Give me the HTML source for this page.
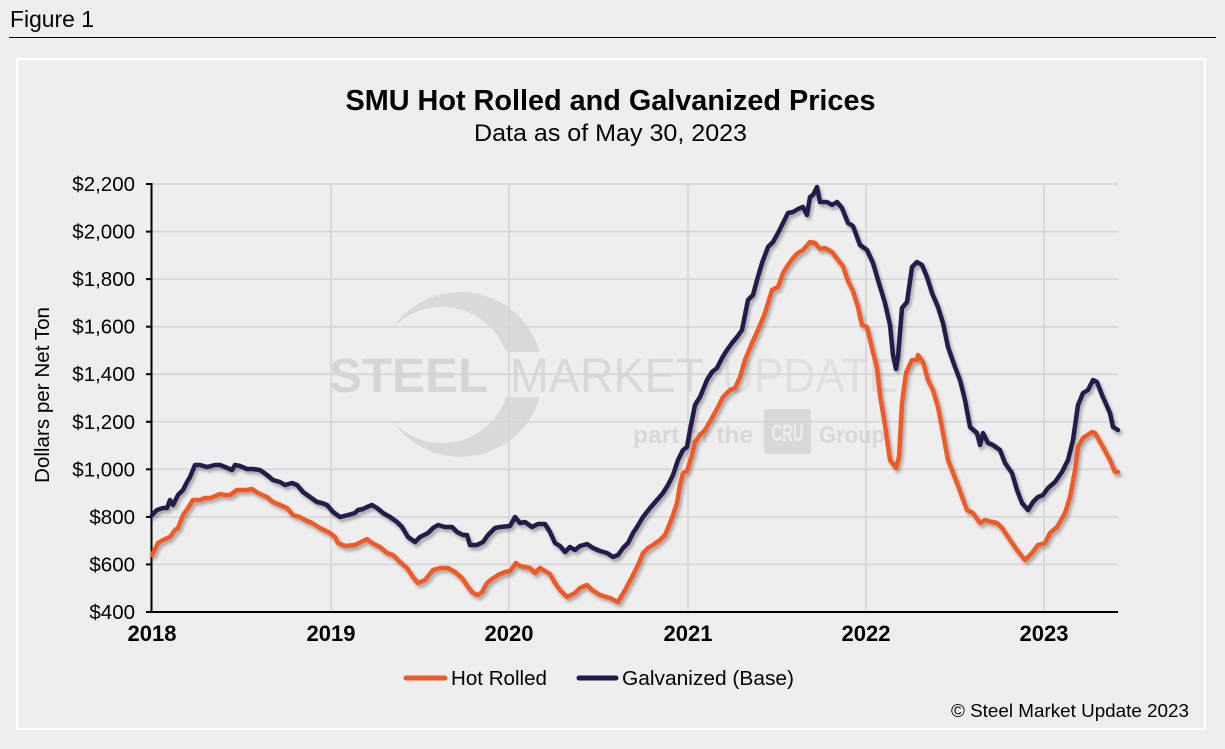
<!DOCTYPE html>
<html>
<head>
<meta charset="utf-8">
<style>
html,body{margin:0;padding:0;background:#eeeeee;}
svg{display:block;}
text{font-family:"Liberation Sans",Arial,sans-serif;}
</style>
</head>
<body>
<svg width="1225" height="749" viewBox="0 0 1225 749" xmlns="http://www.w3.org/2000/svg">
<defs>
<filter id="sh" x="-5%" y="-5%" width="110%" height="110%">
<feDropShadow dx="2" dy="3" stdDeviation="1.5" flood-color="#000" flood-opacity="0.3"/>
</filter>
<mask id="cm">
<rect x="0" y="0" width="1225" height="749" fill="black"/>
<circle cx="460.5" cy="374.5" r="82.5" fill="white"/>
<circle cx="442" cy="375" r="68" fill="black"/>
<rect x="370" y="352" width="200" height="45" fill="black"/>
</mask>
</defs>
<rect x="0" y="0" width="1225" height="749" fill="#eeeeee"/>
<text x="10" y="27" font-size="23" fill="#000" textLength="84" lengthAdjust="spacingAndGlyphs">Figure 1</text>
<line x1="9" y1="37.5" x2="1216" y2="37.5" stroke="#000" stroke-width="1"/>
<rect x="17" y="59" width="1188" height="670" fill="none" stroke="#ffffff" stroke-width="2"/>

<text x="610.5" y="110" font-size="29" font-weight="bold" text-anchor="middle" fill="#000" textLength="530" lengthAdjust="spacingAndGlyphs">SMU Hot Rolled and Galvanized Prices</text>
<text x="610.5" y="141" font-size="24" text-anchor="middle" fill="#000" textLength="273" lengthAdjust="spacingAndGlyphs">Data as of May 30, 2023</text>

<!-- watermark -->
<rect x="370" y="285" width="190" height="180" fill="#dadada" mask="url(#cm)"/>
<text x="329" y="392" font-size="48" font-weight="bold" fill="#d6d6d6" textLength="159" lengthAdjust="spacingAndGlyphs">STEEL</text>
<text x="510" y="392" font-size="48" fill="#d9d9d9" textLength="194" lengthAdjust="spacingAndGlyphs">MARKET</text>
<text x="722" y="392" font-size="48" fill="#e0e0e0" textLength="176" lengthAdjust="spacingAndGlyphs" style="font-weight:100">UPDATE</text>
<text x="633" y="443" font-size="24" font-weight="bold" fill="#d9d9d9" textLength="120" lengthAdjust="spacingAndGlyphs">part of the</text>
<rect x="764" y="409" width="47" height="45" rx="3" fill="#d9d9d9"/>
<text x="787.5" y="441" font-size="24" font-weight="bold" fill="#eeeeee" text-anchor="middle" textLength="32" lengthAdjust="spacingAndGlyphs">CRU</text>
<text x="819" y="443" font-size="24" font-weight="bold" fill="#d9d9d9" textLength="66" lengthAdjust="spacingAndGlyphs">Group</text>

<!-- gridlines -->
<g stroke="#d4d4d4" stroke-width="1.5">
<line x1="152" y1="184" x2="1118" y2="184"/>
<line x1="152" y1="231.6" x2="1118" y2="231.6"/>
<line x1="152" y1="279.1" x2="1118" y2="279.1"/>
<line x1="152" y1="326.7" x2="1118" y2="326.7"/>
<line x1="152" y1="374.2" x2="1118" y2="374.2"/>
<line x1="152" y1="421.8" x2="1118" y2="421.8"/>
<line x1="152" y1="469.3" x2="1118" y2="469.3"/>
<line x1="152" y1="516.9" x2="1118" y2="516.9"/>
<line x1="152" y1="564.4" x2="1118" y2="564.4"/>
<line x1="331" y1="184" x2="331" y2="612"/>
<line x1="509" y1="184" x2="509" y2="612"/>
<line x1="688" y1="184" x2="688" y2="612"/>
<line x1="866" y1="184" x2="866" y2="612"/>
<line x1="1044" y1="184" x2="1044" y2="612"/>
</g>

<!-- axes -->
<g stroke="#000" stroke-width="2">
<line x1="151.5" y1="183" x2="151.5" y2="613"/>
<line x1="150" y1="612" x2="1118" y2="612"/>
<line x1="146" y1="184" x2="152" y2="184"/>
<line x1="146" y1="231.6" x2="152" y2="231.6"/>
<line x1="146" y1="279.1" x2="152" y2="279.1"/>
<line x1="146" y1="326.7" x2="152" y2="326.7"/>
<line x1="146" y1="374.2" x2="152" y2="374.2"/>
<line x1="146" y1="421.8" x2="152" y2="421.8"/>
<line x1="146" y1="469.3" x2="152" y2="469.3"/>
<line x1="146" y1="516.9" x2="152" y2="516.9"/>
<line x1="146" y1="564.4" x2="152" y2="564.4"/>
<line x1="146" y1="612" x2="152" y2="612"/>
</g>

<g font-size="20.5" fill="#000" text-anchor="end">
<text x="135" y="191">$2,200</text>
<text x="135" y="238.6">$2,000</text>
<text x="135" y="286.1">$1,800</text>
<text x="135" y="333.7">$1,600</text>
<text x="135" y="381.2">$1,400</text>
<text x="135" y="428.8">$1,200</text>
<text x="135" y="476.3">$1,000</text>
<text x="135" y="523.9">$800</text>
<text x="135" y="571.4">$600</text>
<text x="135" y="619">$400</text>
</g>
<text transform="translate(49,395) rotate(-90)" font-size="20" text-anchor="middle" fill="#000" textLength="176" lengthAdjust="spacingAndGlyphs">Dollars per Net Ton</text>

<g font-size="22" font-weight="bold" fill="#000" text-anchor="middle">
<text x="152" y="641">2018</text>
<text x="331" y="641">2019</text>
<text x="509" y="641">2020</text>
<text x="688" y="641">2021</text>
<text x="866" y="641">2022</text>
<text x="1044" y="641">2023</text>
</g>

<!-- series -->
<g fill="none" stroke-width="4.5" stroke-linejoin="round" stroke-linecap="round" filter="url(#sh)">
<polyline stroke="#201A4B" points="152,515 157,510 163,508 167,508 170,500 173,505 178,495 183,490 187,482 190,477 195,465 200,465 207,467 215,465 220,465 225,467 232,470 235,465 240,466 247,469 253,469 260,470 267,475 273,480 280,482 285,485 292,483 297,485 303,492 310,497 317,502 322,503 327,505 333,512 340,517 348,515 355,513 358,510 363,509 367,507 372,505 377,508 383,513 390,517 397,522 402,527 408,537 415,542 420,537 428,533 433,528 438,525 445,527 452,527 457,532 463,535 467,535 470,545 477,545 483,542 488,535 495,528 500,527 510,526 515,517 520,523 525,522 532,527 538,524 545,524 550,532 555,543 560,546 565,552 570,547 575,550 580,546 587,544 593,548 600,551 607,553 613,557 618,555 623,548 628,543 633,533 637,527 643,517 650,508 657,500 663,493 668,485 673,475 678,460 683,450 687,447 690,430 695,405 700,397 707,380 712,372 717,368 722,358 727,350 732,343 737,337 742,330 745,315 748,300 753,295 757,280 762,263 768,247 773,242 778,233 783,223 788,213 793,212 798,209 803,207 807,215 810,197 813,195 817,187 820,202 827,202 832,205 837,202 842,208 848,223 853,226 860,245 867,250 873,263 878,280 885,303 890,325 893,355 896,369 898,357 902,308 907,302 912,267 917,262 922,265 927,277 932,293 938,307 943,323 948,347 955,367 960,380 965,400 970,427 977,433 980,445 983,433 988,443 993,445 1000,450 1005,463 1012,473 1017,490 1022,503 1028,510 1033,502 1038,497 1043,495 1048,488 1055,482 1062,472 1068,460 1073,440 1078,405 1083,393 1088,390 1093,380 1097,382 1102,395 1110,413 1113,427 1118,430"/>
<polyline stroke="#F05A28" points="152,555 158,543 163,540 170,537 175,530 178,528 183,515 188,508 193,500 200,500 205,498 210,498 213,497 220,494 225,495 230,495 237,490 247,490 252,489 258,493 267,497 273,502 280,505 287,508 293,515 300,517 305,520 312,523 320,528 330,533 335,537 338,543 345,546 355,545 367,539 372,543 380,547 387,553 393,555 400,562 407,568 413,577 418,583 425,580 433,570 440,568 448,568 455,572 462,578 468,587 473,593 478,595 482,592 487,583 492,579 498,575 505,572 510,571 516,563 520,566 530,568 535,573 540,568 550,574 555,583 560,590 567,597 575,593 580,588 587,585 592,590 600,595 610,598 618,602 625,590 632,577 638,565 643,553 648,548 653,545 660,540 665,535 670,523 673,515 677,503 680,485 683,473 687,471 692,455 695,442 700,435 705,430 712,418 718,407 723,397 730,390 735,388 740,377 745,360 752,343 758,330 765,313 772,290 778,287 783,273 788,265 793,258 798,253 803,250 810,242 815,243 820,249 825,248 832,252 838,260 843,266 848,281 853,291 858,307 862,325 867,327 872,348 877,368 880,395 885,425 890,460 896,468 899,457 902,403 906,373 912,360 917,360 918,355 923,362 928,380 933,390 938,407 943,433 948,460 957,483 967,510 973,513 980,523 985,520 992,522 997,523 1002,528 1008,537 1017,550 1025,560 1032,553 1038,545 1045,543 1050,533 1057,527 1065,513 1070,497 1075,470 1078,447 1083,438 1092,432 1095,433 1103,447 1110,460 1115,472 1118,472"/>
</g>

<!-- legend -->
<line x1="406" y1="678" x2="445" y2="678" stroke="#F05A28" stroke-width="5" stroke-linecap="round"/>
<text x="451" y="685" font-size="20" fill="#000" textLength="96" lengthAdjust="spacingAndGlyphs">Hot Rolled</text>
<line x1="579" y1="678" x2="616" y2="678" stroke="#201A4B" stroke-width="5" stroke-linecap="round"/>
<text x="622" y="685" font-size="20" fill="#000" textLength="172" lengthAdjust="spacingAndGlyphs">Galvanized (Base)</text>

<text x="1189" y="717" font-size="18.5" fill="#000" text-anchor="end" textLength="238" lengthAdjust="spacingAndGlyphs">© Steel Market Update 2023</text>
</svg>
</body>
</html>
